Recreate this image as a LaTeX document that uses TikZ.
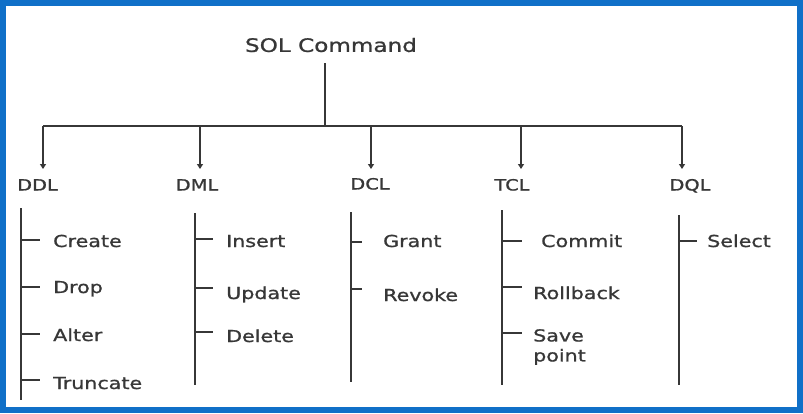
\documentclass[tikz,border=0pt]{standalone}
\usepackage{fontspec}
\setmainfont[FakeStretch=1.25,FakeBold=1]{DejaVu Sans}
\usetikzlibrary{arrows.meta}
\definecolor{frameblue}{RGB}{16,112,200}
\definecolor{ink}{RGB}{55,55,55}
\begin{document}
\begin{tikzpicture}[x=1pt,y=-1pt,
  conn/.style={draw=ink,line width=1.4pt},
  arr/.style={conn,-{Triangle[width=6pt,length=5pt]}},
  title/.style={inner sep=0pt,text=ink,font=\fontsize{18.5}{22}\selectfont},
  grp/.style={inner sep=0pt,text=ink,font=\fontsize{15.5}{19}\selectfont,text height=11pt,text depth=0pt},
  item/.style={inner sep=0pt,anchor=west,text=ink,font=\fontsize{16.5}{20}\selectfont,text height=12pt,text depth=0pt}]
\useasboundingbox (0,0) rectangle (803,413);
\fill[white] (0,0) rectangle (803,413);
\draw[frameblue,line width=6pt] (3,3) rectangle (800,410);

% title and bus
\node[title] (root) at (331,45) {SOL Command};
\coordinate (busL) at (43,126);
\coordinate (busR) at (682,126);
\draw[conn] (325,63) coordinate (rootfoot) -- (rootfoot |- busL);
\draw[conn] (busL) -- (busR);

% group labels
\node[grp] (ddl) at (37.5,185) {DDL};
\node[grp] (dml) at (197,185) {DML};
\node[grp] (dcl) at (370,184) {DCL};
\node[grp] (tcl) at (512,185) {TCL};
\node[grp] (dql) at (690,185) {DQL};

% arrows
\coordinate (t1) at (43,169);
\coordinate (t2) at (200,169);
\coordinate (t3) at (371,169);
\coordinate (t4) at (521,169);
\coordinate (t5) at (682,169);
\foreach \t in {t1,t2,t3,t4,t5}{\draw[arr] (\t |- busL) -- (\t);}

% vertical lines
\draw[conn] (21,208) coordinate (v1) -- (21,400);
\draw[conn] (195,213) coordinate (v2) -- (195,385);
\draw[conn] (351,212) coordinate (v3) -- (351,382);
\draw[conn] (502,210) coordinate (v4) -- (502,385);
\draw[conn] (679,215) coordinate (v5) -- (679,385);

% DDL items
\node[item] (create) at (53,241) {Create};
\node[item] (drop) at (53,287) {Drop};
\node[item] (alter) at (53,335) {Alter};
\node[item] (trunc) at (53,383) {Truncate};
\foreach \y in {240,287,334,380}{\draw[conn] (21,\y) -- (40,\y);}

% DML items
\node[item] (insert) at (226,241) {Insert};
\node[item] (update) at (226,293) {Update};
\node[item] (delete) at (226,336) {Delete};
\foreach \y in {239,288,332}{\draw[conn] (195,\y) -- (213,\y);}

% DCL items
\node[item] (grant) at (383,241) {Grant};
\node[item] (revoke) at (383,295) {Revoke};
\foreach \y in {242,289}{\draw[conn] (351,\y) -- (362,\y);}

% TCL items
\node[item] (commit) at (541,241) {Commit};
\node[item] (rollback) at (533,293) {Rollback};
\node[item,anchor=north west,align=left,text height=,text depth=] (save) at (533,329) {Save\\point};
\foreach \y in {241,287,333}{\draw[conn] (502,\y) -- (522,\y);}

% DQL items
\node[item] (select) at (707,241) {Select};
\draw[conn] (679,241) -- (697,241);
\end{tikzpicture}
\end{document}
